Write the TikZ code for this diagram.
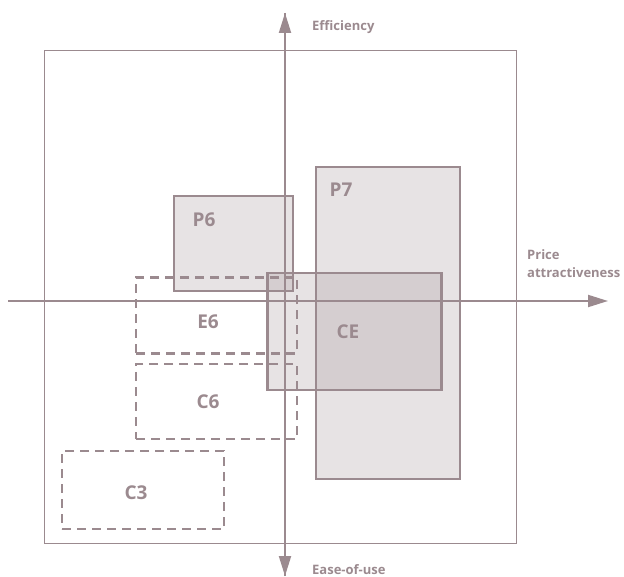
\documentclass[tikz,border=0pt]{standalone}
\usepackage{fontspec}
\setmainfont{Open Sans}
\definecolor{mauve}{RGB}{155, 138, 143}
\usetikzlibrary{arrows.meta, positioning}
\tikzset{
	zone/.style={rectangle, draw=mauve, fill=mauve, fill opacity=0.24, draw opacity=1, line width=2.5pt, inner sep=0pt},
	dashzone/.style={rectangle, draw=mauve, line width=2.5pt, dash pattern=on 9pt off 6pt, inner sep=0pt},
	zonelabel/.style={text=mauve, font=\bfseries\fontsize{19}{22}\selectfont, inner sep=0pt},
	axislabel/.style={text=mauve, font=\bfseries\fontsize{13}{18}\selectfont, align=left, inner sep=0pt, anchor=west},
	axis/.style={-{Triangle[length=20pt, width=12pt]}, line width=2pt, draw=mauve},
}

\begin{document}
\begin{tikzpicture}[x=1pt, y=-1pt]
		\useasboundingbox (0,0) rectangle (624,577);
		\node[rectangle, draw=mauve, line width=1pt, minimum width=472pt, minimum height=492pt, inner sep=0pt] (frame) at (280,297) {};
		% solid zones
		\node[zone, minimum width=144pt, minimum height=312pt] (p7) at (388,323) {};
		\node[zone, minimum width=119pt, minimum height=95pt] (p6) at (233.5,243.5) {};
		\node[zone, minimum width=174pt, minimum height=117pt] (ce) at (354.5,331.5) {};
		% dashed zones
		\node[dashzone, minimum width=161pt, minimum height=76pt] (e6) at (216.5,315.5) {};
		\node[dashzone, minimum width=161pt, minimum height=75pt] (c6) at (216.5,401.5) {};
		\node[dashzone, minimum width=162pt, minimum height=78pt] (c3) at (143,490) {};
		% labels
		\node[zonelabel] (p7l) at (341,190) {P7};
		\node[zonelabel] (p6l) at (204,220) {P6};
		\node[zonelabel] (cel) at (348,332) {CE};
		\node[zonelabel] (e6l) at (208,322) {E6};
		\node[zonelabel] (c6l) at (208,402) {C6};
		\node[zonelabel] (c3l) at (136,493) {C3};
		% axes
		\coordinate (xl) at (8,301);
		\coordinate (xr) at (608,301);
		\coordinate (yt) at (285,13);
		\coordinate (yb) at (285,576);
		\draw[axis] (xl) -- (xr);
		\draw[axis] (yb) -- (yt);
		\draw[axis] (yt) -- (yb);
		\node[axislabel] (eff) at (312,27) {Efficiency};
		\node[axislabel] (price) at (527,264) {Price\\attractiveness};
		\node[axislabel] (ease) at (312,570) {Ease-of-use};
	\end{tikzpicture}
\end{document}
